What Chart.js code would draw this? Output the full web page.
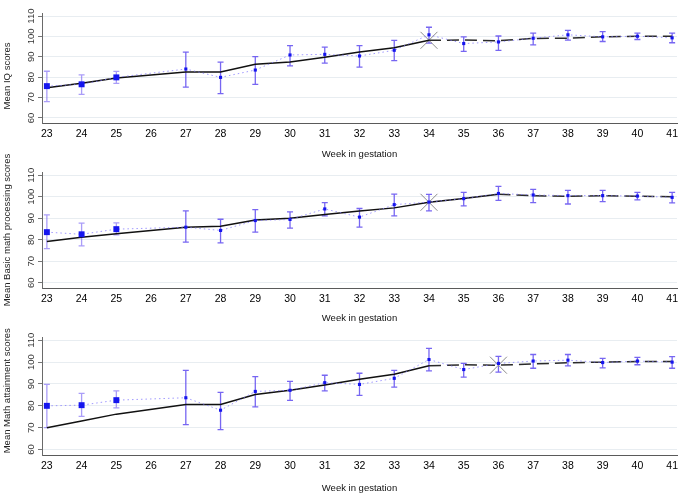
<!DOCTYPE html>
<html>
<head>
<meta charset="utf-8">
<script src="https://cdn.jsdelivr.net/npm/chart.js@4.4.1/dist/chart.umd.min.js"></script>
<style>
html, body { margin: 0; padding: 0; background: #fff; }
.panel { position: absolute; left: 0; width: 690px; }
</style>
</head>
<body>
<div class="panel" style="top:0"><canvas id="iqChart" width="690" height="165"></canvas></div>
<div class="panel" style="top:145px"><canvas id="basicChart" width="690" height="185"></canvas></div>
<div class="panel" style="top:310px"><canvas id="attainChart" width="690" height="186"></canvas></div>
<script>
// Weeks with observations (no data at week 26)
const weeks = [23, 24, 25, 27, 28, 29, 30, 31, 32, 33, 34, 35, 36, 37, 38, 39, 40, 41];
const xTicks = [23, 24, 25, 26, 27, 28, 29, 30, 31, 32, 33, 34, 35, 36, 37, 38, 39, 40, 41];
const yTicks = [60, 70, 80, 90, 100, 110];

// Mean IQ scores
const iqMean = [75.6, 76.5, 79.9, 84.0, 79.9, 83.5, 90.9, 91.2, 90.4, 93.2, 100.8, 96.5, 97.3, 99.1, 100.8, 99.8, 100.1, 99.3];
const iqLow  = [68.0, 71.6, 77.0, 75.1, 71.9, 76.5, 85.5, 86.9, 84.9, 88.1, 96.7, 92.7, 93.2, 95.9, 98.2, 97.5, 98.5, 96.9];
const iqHigh = [82.9, 81.1, 82.8, 92.3, 87.4, 90.1, 95.5, 94.7, 95.5, 98.1, 104.5, 99.8, 100.2, 101.6, 103.0, 102.4, 101.6, 101.6];
const iqFit  = [74.8, 77.0, 79.6, 82.5, 82.5, 86.3, 87.5, 89.8, 92.4, 94.4, 98.1, 98.2, 97.9, 99.0, 99.1, 99.8, 100.1, 100.1];

// Mean basic math processing scores
const basicMean = [83.5, 82.5, 84.9, 85.8, 84.3, 88.9, 89.4, 94.3, 90.5, 96.3, 97.5, 99.1, 101.5, 100.8, 100.5, 100.5, 100.3, 99.7];
const basicLow  = [75.8, 77.1, 82.2, 78.9, 78.5, 83.5, 85.4, 91.1, 85.8, 91.1, 93.4, 95.7, 98.3, 97.2, 96.6, 97.7, 98.5, 97.1];
const basicHigh = [91.5, 87.7, 87.8, 93.4, 89.5, 94.0, 92.9, 97.2, 94.5, 101.2, 101.1, 102.0, 104.8, 103.4, 102.9, 102.9, 102.0, 102.0];
const basicFit  = [79.2, 81.1, 82.8, 85.8, 86.2, 89.1, 90.0, 91.7, 93.4, 94.8, 97.4, 99.2, 101.1, 100.5, 100.2, 100.5, 100.2, 100.0];

// Mean math attainment scores
const attainMean = [80.0, 80.3, 82.6, 83.7, 78.0, 86.6, 87.1, 90.6, 89.8, 92.6, 101.2, 96.6, 99.4, 100.5, 100.9, 99.8, 100.5, 100.0];
const attainLow  = [70.0, 75.2, 79.1, 71.4, 69.1, 79.5, 82.5, 86.8, 84.8, 88.6, 96.0, 93.1, 95.4, 97.2, 98.3, 97.4, 98.8, 97.2];
const attainHigh = [89.8, 85.7, 86.8, 96.2, 86.2, 93.4, 91.2, 94.0, 94.9, 96.2, 106.3, 99.4, 102.6, 103.5, 103.5, 101.7, 102.2, 102.5];
const attainFit  = [70.0, 73.1, 76.2, 80.6, 80.6, 85.2, 87.1, 89.5, 92.2, 94.5, 98.3, 98.8, 98.6, 99.2, 99.7, 100.0, 100.3, 100.3];

const FONT = "'Liberation Sans', Arial, sans-serif";
Chart.defaults.font.family = FONT;
Chart.defaults.font.size = 10;
Chart.defaults.color = '#222';

// vertical error bars with caps, drawn under the points
const errorBars = {
    id: 'errorBars',
    beforeDatasetsDraw(chart, args, opts) {
        const { ctx, scales: { x, y } } = chart;
        ctx.save();
        ctx.lineWidth = 1.3;
        weeks.forEach((w, i) => {
            const px = x.getPixelForValue(w);
            const y0 = y.getPixelForValue(opts.low[i]);
            const y1 = y.getPixelForValue(opts.high[i]);
            ctx.strokeStyle = w <= 25 ? 'rgba(125,105,245,0.65)' : 'rgba(95,75,240,0.85)';
            ctx.beginPath();
            ctx.moveTo(px, y0); ctx.lineTo(px, y1);
            ctx.moveTo(px - 3, y0); ctx.lineTo(px + 3, y0);
            ctx.moveTo(px - 3, y1); ctx.lineTo(px + 3, y1);
            ctx.stroke();
        });
        ctx.restore();
    }
};

// rotated y tick labels (read bottom to top)
const yTickLabels = {
    id: 'yTickLabels',
    afterDraw(chart) {
        const { ctx, scales: { y } } = chart;
        ctx.save();
        ctx.font = '9.5px ' + FONT;
        ctx.fillStyle = '#333';
        ctx.textAlign = 'center';
        ctx.textBaseline = 'middle';
        yTicks.forEach(v => {
            ctx.save();
            ctx.translate(31, y.getPixelForValue(v));
            ctx.rotate(-Math.PI / 2);
            ctx.fillText(String(v), 0, 0);
            ctx.restore();
        });
        ctx.restore();
    }
};

function makePanel(id, p) {
    const canvas = document.getElementById(id);
    const H = canvas.height;
    const breakIdx = weeks.indexOf(p.breakWeek);

    new Chart(canvas, {
        type: 'line',
        data: {
            datasets: [
                {
                    // observed means joined by a dotted line
                    data: weeks.map((w, i) => ({ x: w, y: p.mean[i] })),
                    borderColor: 'rgba(130,120,255,0.75)',
                    borderWidth: 1,
                    borderDash: [1.5, 3],
                    pointStyle: 'rect',
                    pointRadius: weeks.map(w => w <= 25 ? 4.2 : 2.2),
                    pointBackgroundColor: '#1515ee',
                    pointBorderWidth: 0,
                    order: 0
                },
                {
                    // fitted piecewise line, dashed after the change point
                    data: weeks.map((w, i) => ({ x: w, y: p.fit[i] })),
                    borderColor: '#111',
                    borderWidth: 1.5,
                    pointRadius: 0,
                    tension: 0,
                    segment: {
                        borderDash: c => c.p0.parsed.x >= p.dashFrom ? [12, 6] : undefined,
                        borderColor: c => c.p0.parsed.x >= p.dashFrom ? '#2a2a2a' : undefined
                    },
                    order: 1
                },
                {
                    // breakpoint marker
                    data: [{ x: p.breakWeek, y: p.fit[breakIdx] }],
                    showLine: false,
                    pointStyle: 'crossRot',
                    pointRadius: 12,
                    pointBorderColor: '#8c8c8c',
                    pointBorderWidth: 1,
                    order: 2
                }
            ]
        },
        options: {
            responsive: false,
            animation: false,
            layout: { padding: { top: p.top, right: 2, left: 0, bottom: 0 } },
            plugins: {
                legend: { display: false },
                tooltip: { enabled: false },
                errorBars: { low: p.low, high: p.high }
            },
            scales: {
                x: {
                    type: 'linear',
                    min: 22.86,
                    max: 41.14,
                    afterBuildTicks: s => { s.ticks = xTicks.map(v => ({ value: v })); },
                    afterFit: s => { s.height = H - p.axisY; },
                    grid: { display: false, drawTicks: false },
                    border: { color: '#5a5a5a', width: 1 },
                    ticks: { padding: 5, color: '#000', autoSkip: false, maxRotation: 0, font: { size: 10.5 } },
                    title: {
                        display: true,
                        text: 'Week in gestation',
                        color: '#111',
                        font: { size: 9.5 },
                        padding: { top: 0, bottom: p.titleBottom }
                    }
                },
                y: {
                    min: 57.5,
                    max: 111.5,
                    afterBuildTicks: s => { s.ticks = yTicks.map(v => ({ value: v })); },
                    afterFit: s => { s.width = 42; },
                    grid: { color: '#e8edf1', tickColor: '#777', tickLength: 4 },
                    border: { color: '#6a6a6a', width: 1 },
                    ticks: { display: false },
                    title: {
                        display: true,
                        text: p.yTitle,
                        color: '#222',
                        font: { size: 9.5 },
                        padding: { top: 2, bottom: 0 }
                    }
                }
            }
        },
        plugins: [errorBars, yTickLabels]
    });
}

makePanel('iqChart', {
    mean: iqMean, low: iqLow, high: iqHigh, fit: iqFit,
    dashFrom: 34, breakWeek: 34,
    yTitle: 'Mean IQ scores      ',
    top: 5, axisY: 123, titleBottom: 5
});
makePanel('basicChart', {
    mean: basicMean, low: basicLow, high: basicHigh, fit: basicFit,
    dashFrom: 36, breakWeek: 34,
    yTitle: 'Mean Basic math processing scores',
    top: 27, axisY: 143, titleBottom: 6
});
makePanel('attainChart', {
    mean: attainMean, low: attainLow, high: attainHigh, fit: attainFit,
    dashFrom: 34, breakWeek: 36,
    yTitle: '    Mean Math attainment scores',
    top: 27, axisY: 145, titleBottom: 2
});
</script>
</body>
</html>
